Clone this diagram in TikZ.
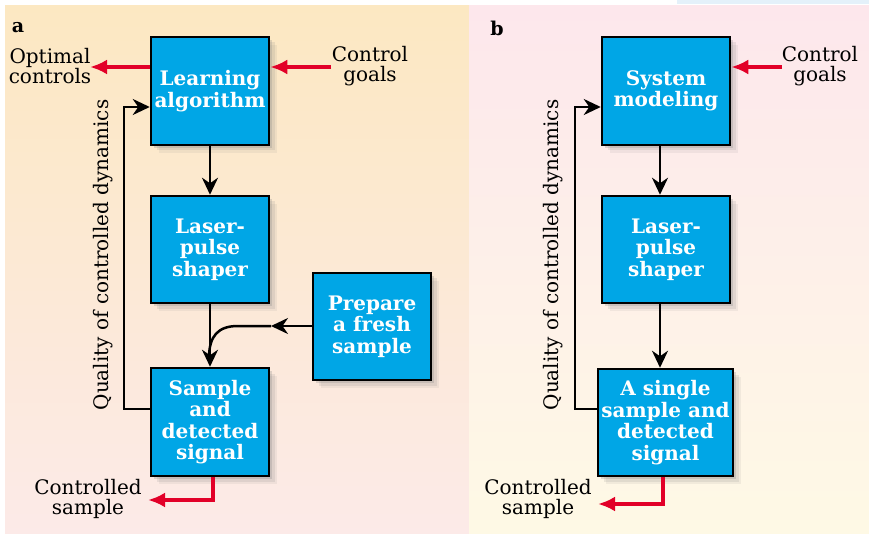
\documentclass[tikz,border=0pt]{standalone}
\usepackage{fontspec}
\setmainfont{DejaVu Serif}
\usetikzlibrary{arrows.meta,shadows,calc}
\definecolor{boxblue}{RGB}{0,166,230}
\definecolor{redarrow}{RGB}{226,0,40}
\definecolor{aTop}{RGB}{252,232,194}
\definecolor{aBot}{RGB}{252,234,232}
\definecolor{bTop}{RGB}{253,231,236}
\definecolor{bBot}{RGB}{254,249,229}
\definecolor{stripblue}{RGB}{228,241,250}
\tikzset{
  blockbox/.style={draw=black, line width=2.5pt, fill=boxblue, text=white,
    font=\fontsize{20}{21.5}\selectfont\bfseries, align=center, inner sep=1pt,
    drop shadow={opacity=0.10, shadow xshift=8pt, shadow yshift=-8pt},
    drop shadow={opacity=0.15, shadow xshift=5.5pt, shadow yshift=-5.5pt},
    drop shadow={opacity=0.25, shadow xshift=3pt, shadow yshift=-3pt}},
  lbl/.style={font=\fontsize{20}{20}\selectfont, align=center, inner sep=0pt},
  panellbl/.style={font=\fontsize{19}{20}\selectfont\bfseries, inner sep=0pt},
  blk/.style={line width=2.5pt, -{Stealth[length=17pt,width=16pt]}},
  blkline/.style={line width=2.5pt},
  redarr/.style={draw=redarrow, line width=4pt, -{Latex[length=17pt,width=15pt]}},
}
\begin{document}
\begin{tikzpicture}[x=1pt,y=-1pt]
\useasboundingbox (0,0) rectangle (869,534);
% backgrounds
\fill[white] (0,0) rectangle (869,534);
\shade[top color=aTop, bottom color=aBot] (5,6) rectangle (469,534);
\shade[top color=bTop, bottom color=bBot] (469,6) rectangle (869,534);
\fill[stripblue] (677,0) rectangle (869,4);
% panel labels
\node[panellbl] (pa) at (18,28) {a};
\node[panellbl] (pb) at (497,28) {b};
% ---------- panel a ----------
\node[blockbox, minimum width=118pt, minimum height=108pt] (la) at (210,91) {Learning\\algorithm};
\node[blockbox, minimum width=118pt, minimum height=107pt] (ls) at (210,249.5) {Laser-\\pulse\\shaper};
\node[blockbox, minimum width=118pt, minimum height=107pt] (pf) at (372,326.5) {Prepare\\a fresh\\sample};
\node[blockbox, minimum width=118pt, minimum height=108pt] (sa) at (210,422) {Sample\\and\\detected\\signal};
\node[lbl] (oc) at (50,66) {Optimal\\controls};
\node[lbl] (cg) at (370,66) {Control\\goals};
\node[lbl] (cs) at (88,499) {Controlled\\sample};
\node[lbl, rotate=90] (qa) at (103,255) {Quality of controlled dynamics};
\coordinate (ocend) at (90,67);
\coordinate (cgstart) at (331,67);
\coordinate (csc) at (213,500);
\coordinate (csend) at (148,500);
\coordinate (fa1) at (124,409);
\coordinate (fa2) at (124,107);
\coordinate (mtip) at (271,326);
\coordinate (mturn) at (238,326);
\coordinate (mjoin) at (209,358);
\draw[redarr] (la.west |- ocend) -- (ocend);
\draw[redarr] (cgstart) -- (la.east |- cgstart);
\draw[redarr] (csc |- sa.south) -- (csc) -- (csend);
\draw[blk] (la.south) -- (ls.north);
\draw[blk] (ls.south) -- (sa.north);
\draw[blk] (pf.west |- mtip) -- (mtip);
\draw[blkline] (mtip) -- (mturn) .. controls (218,326) and (209,336) .. (mjoin);
\draw[blk] (sa.west |- fa1) -- (fa1) -- (fa2) -- (la.west |- fa2);
% ---------- panel b ----------
\node[blockbox, minimum width=128pt, minimum height=108pt] (sm) at (666,91) {System\\modeling};
\node[blockbox, minimum width=128pt, minimum height=107pt] (lb) at (666,249.5) {Laser-\\pulse\\shaper};
\node[blockbox, minimum width=135pt, minimum height=107pt] (sb) at (665.5,422.5) {A single\\sample and\\detected\\signal};
\node[lbl] (cgb) at (820,66) {Control\\goals};
\node[lbl] (csb) at (538,499) {Controlled\\sample};
\node[lbl, rotate=90] (qb) at (553,255) {Quality of controlled dynamics};
\coordinate (cgbstart) at (782,67);
\coordinate (csbc) at (663,504);
\coordinate (csbend) at (598,504);
\coordinate (fb1) at (575,409);
\coordinate (fb2) at (575,107);
\coordinate (vb) at (660,0);
\draw[redarr] (cgbstart) -- (sm.east |- cgbstart);
\draw[redarr] (csbc |- sb.south) -- (csbc) -- (csbend);
\draw[blk] (vb |- sm.south) -- (vb |- lb.north);
\draw[blk] (vb |- lb.south) -- (vb |- sb.north);
\draw[blk] (sb.west |- fb1) -- (fb1) -- (fb2) -- (sm.west |- fb2);
\end{tikzpicture}
\end{document}
